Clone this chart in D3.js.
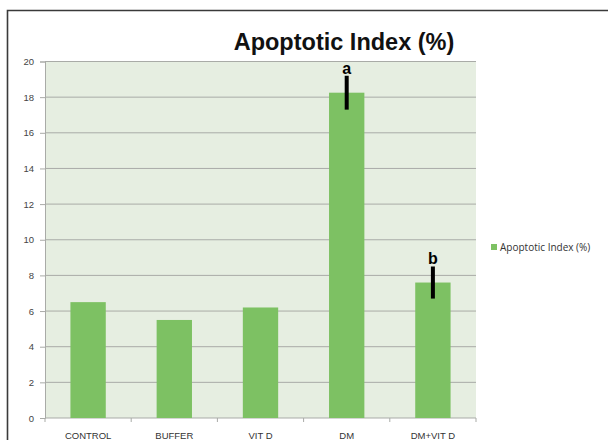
<!DOCTYPE html>
<html><head><meta charset="utf-8">
<script src="https://cdn.jsdelivr.net/npm/d3@7"></script>
<style>body{margin:0;background:#fff}svg{display:block}</style>
</head><body>
<svg id="c" width="608" height="440"></svg>
<script>
const categories = ["CONTROL","BUFFER","VIT D","DM","DM+VIT D"];
const values = [6.5, 5.5, 6.2, 18.25, 7.6];
const errors = [null, null, null, 0.95, 0.9];
const sigLabels = ["", "", "", "a", "b"];
const yTicks = [0,2,4,6,8,10,12,14,16,18,20];
const seriesName = "Apoptotic Index (%)";

const svg = d3.select("#c");
const m = {l:45, r:476, t:61.5, b:418};
const x = d3.scaleBand().domain(categories).range([m.l, m.r]).paddingInner(0.59).paddingOuter(0.295);
const y = d3.scaleLinear().domain([0,20]).range([m.b, m.t]);
const smallFont = "Liberation Sans Narrow, Liberation Sans, Arial, sans-serif";

// frame
svg.append("path").attr("d","M7.5,440 V10.5 H608").attr("fill","none").attr("stroke","#3a3a3a").attr("stroke-width",1.6);

// plot bg
svg.append("rect").attr("x",m.l).attr("y",m.t).attr("width",m.r-m.l).attr("height",m.b-m.t).attr("fill","#e6eee1");

// grid
svg.append("g").selectAll("line").data(yTicks.filter(d=>d>0)).join("line")
  .attr("x1",m.l).attr("x2",m.r).attr("y1",d=>y(d)).attr("y2",d=>y(d))
  .attr("stroke","#a9aba7").attr("stroke-width",1);

// y axis
const ya = svg.append("g").attr("transform",`translate(${m.l},0)`)
  .call(d3.axisLeft(y).tickValues(yTicks).tickSize(5).tickPadding(6));
ya.select(".domain").attr("stroke","#a9aba7");
ya.selectAll(".tick line").attr("stroke","#a9aba7");
ya.selectAll("text").attr("font-family",smallFont).attr("font-size",9.5).attr("fill","#444");

// x axis
const xa = svg.append("g").attr("transform",`translate(0,${m.b})`)
  .call(d3.axisBottom(x).tickSize(0).tickPadding(14));
xa.select(".domain").remove();
xa.selectAll("text").attr("font-family",smallFont).attr("font-size",9.5).attr("fill","#333");
svg.append("line").attr("x1",m.l).attr("x2",m.r).attr("y1",m.b).attr("y2",m.b).attr("stroke","#a9aba7");
svg.append("g").selectAll("line").data(d3.range(categories.length+1)).join("line")
  .attr("x1",i=>m.l+i*(m.r-m.l)/categories.length).attr("x2",i=>m.l+i*(m.r-m.l)/categories.length)
  .attr("y1",m.b).attr("y2",m.b+4).attr("stroke","#a9aba7");

// bars
svg.append("g").selectAll("rect").data(categories).join("rect")
  .attr("x",d=>x(d)).attr("width",x.bandwidth())
  .attr("y",(d,i)=>y(values[i])).attr("height",(d,i)=>m.b-y(values[i]))
  .attr("fill","#7dc163");

// error bars
const eb = categories.map((c,i)=>({c,v:values[i],e:errors[i],s:sigLabels[i]})).filter(d=>d.e!=null);
svg.append("g").selectAll("line").data(eb).join("line")
  .attr("x1",d=>x(d.c)+x.bandwidth()/2).attr("x2",d=>x(d.c)+x.bandwidth()/2)
  .attr("y1",d=>y(d.v+d.e)).attr("y2",d=>y(d.v-d.e))
  .attr("stroke","#000").attr("stroke-width",4);
svg.append("g").selectAll("text").data(eb).join("text")
  .attr("x",d=>x(d.c)+x.bandwidth()/2).attr("y",d=>y(d.v+d.e)-2)
  .attr("text-anchor","middle").attr("font-family",smallFont)
  .attr("font-weight","bold").attr("font-size",16).text(d=>d.s);

// title
svg.append("text").attr("x",344).attr("y",50).attr("text-anchor","middle")
  .attr("font-family","Liberation Sans, Arial, sans-serif").attr("font-weight","bold").attr("font-size",23.5)
  .attr("fill","#111").text(seriesName);

// legend
svg.append("rect").attr("x",491).attr("y",244).attr("width",6).attr("height",6).attr("fill","#7dc163");
svg.append("text").attr("x",500).attr("y",250.5).attr("font-family","Open Sans, Liberation Sans, sans-serif")
  .attr("font-size",10).attr("fill","#333").text(seriesName);
</script>
</body></html>
